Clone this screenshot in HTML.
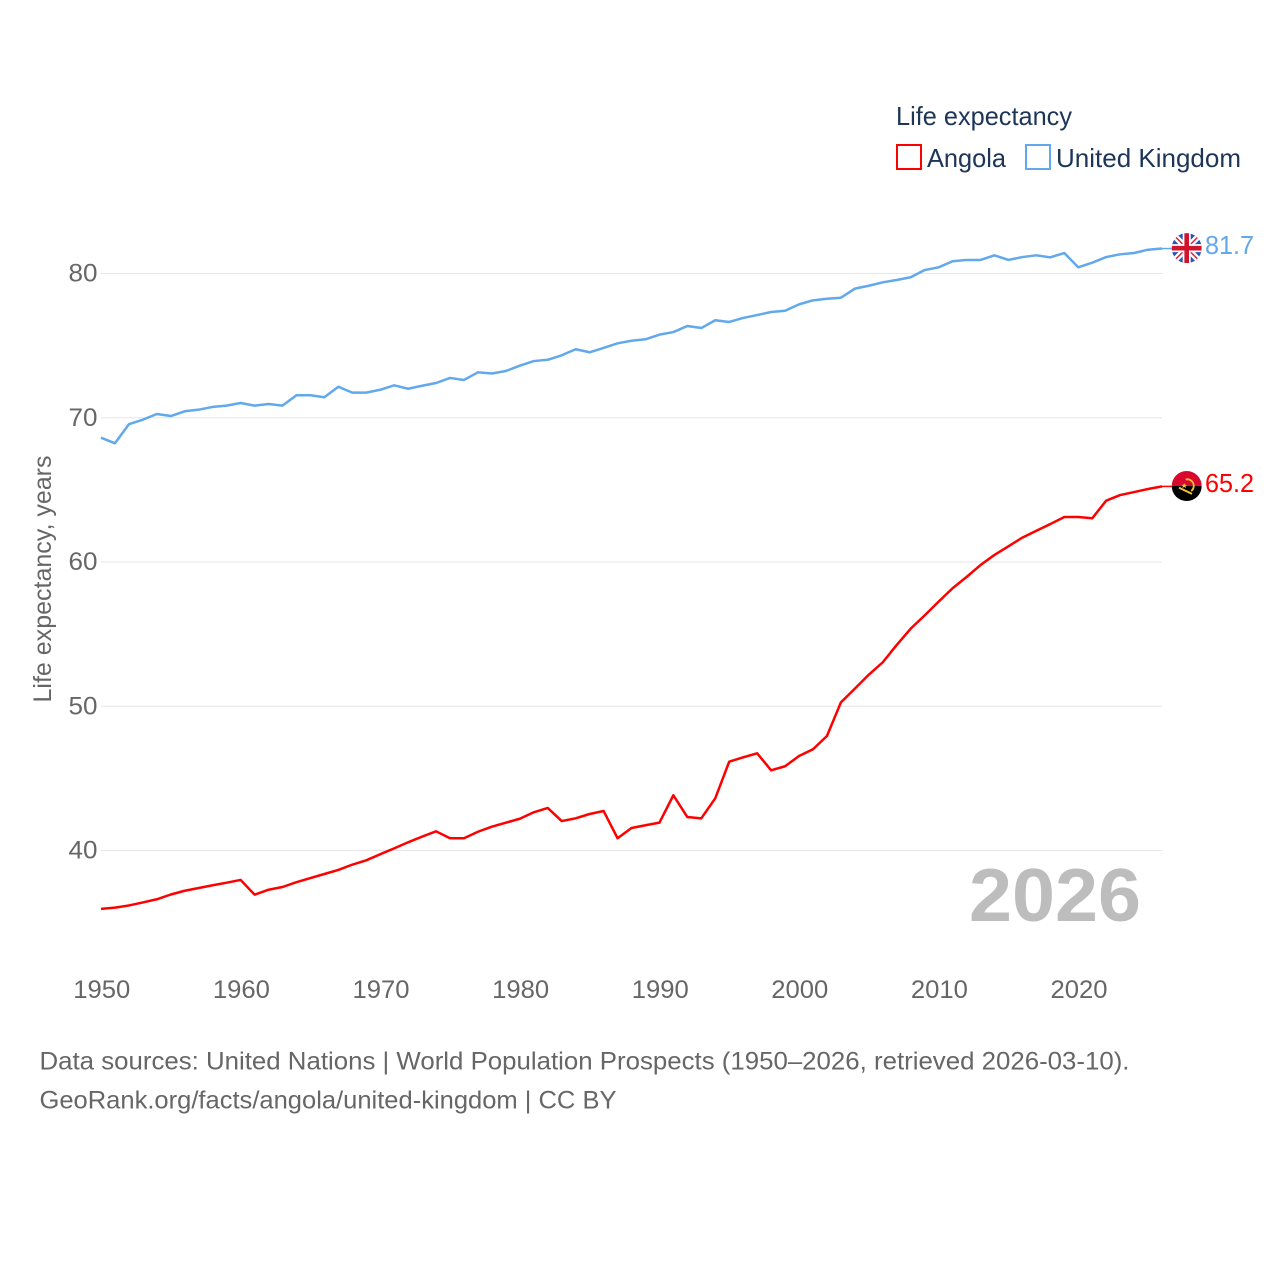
<!DOCTYPE html>
<html lang="en">
<head>
<meta charset="utf-8">
<title>Life expectancy: Angola and United Kingdom</title>
<style>
html,body{margin:0;padding:0;background:#fff;width:1280px;height:1280px;overflow:hidden}
svg{display:block;font-family:"Liberation Sans",sans-serif}
</style>
</head>
<body>
<svg id="chart" xmlns="http://www.w3.org/2000/svg" width="1280" height="1280" viewBox="0 0 1280 1280">
  <defs>
    <clipPath id="flag-clip"><circle cx="0" cy="0" r="15"/></clipPath>
  </defs>
  <rect x="0" y="0" width="1280" height="1280" fill="#ffffff"/>
  <g id="grid"></g>
  <g id="y-ticks"></g>
  <g id="x-ticks"></g>
  <text transform="translate(51,579) rotate(-90)" text-anchor="middle" font-size="25" fill="#666666" textLength="247" lengthAdjust="spacingAndGlyphs">Life expectancy, years</text>
  <text x="969" y="921" font-size="75" font-weight="700" fill="#bdbdbd" textLength="172" lengthAdjust="spacingAndGlyphs">2026</text>
  <g id="series"></g>

  <g id="flag-uk">
    <g clip-path="url(#flag-clip)">
      <rect x="-15" y="-15" width="30" height="30" fill="#2458b5"/>
      <path d="M-15,-15 L15,15 M15,-15 L-15,15" stroke="#ffffff" stroke-width="6"/>
      <path d="M-15,-15 L15,15 M15,-15 L-15,15" stroke="#d8283a" stroke-width="1.5"/>
      <path d="M0,-15 V15 M-15,0 H15" stroke="#ffffff" stroke-width="8"/>
      <path d="M0,-15 V15 M-15,0 H15" stroke="#d0142c" stroke-width="4.6"/>
    </g>
  </g>
  <g id="flag-angola">
    <g clip-path="url(#flag-clip)">
      <rect x="-15" y="-15" width="30" height="15" fill="#d8082e"/>
      <rect x="-15" y="0" width="30" height="15" fill="#000000"/>
      <path d="M-1,-6.5 A6.5,6.5 0 0 1 4.5,5" fill="none" stroke="#f5c52c" stroke-width="1.8"/>
      <path d="M-7,2 L4.5,7.5" fill="none" stroke="#f5c52c" stroke-width="2" stroke-linecap="round"/>
      <path d="M-2.5,-3.2 L-1.7,-1.2 L0.4,-1.2 L-1.2,0.1 L-0.6,2.1 L-2.5,0.9 L-4.4,2.1 L-3.8,0.1 L-5.4,-1.2 L-3.3,-1.2 Z" fill="#f5c52c"/>
    </g>
  </g>
  <text id="label-uk" x="1205" font-size="26" fill="#62a8ec" textLength="49" lengthAdjust="spacingAndGlyphs"></text>
  <text id="label-angola" x="1205" font-size="26" fill="#ff0000" textLength="49" lengthAdjust="spacingAndGlyphs"></text>

  <g>
    <text x="896" y="125" font-size="26" fill="#1d3557" textLength="176" lengthAdjust="spacingAndGlyphs">Life expectancy</text>
    <g>
      <rect x="897" y="145" width="24" height="24" fill="none" stroke="#ff0000" stroke-width="2"/>
      <text x="927" y="167" font-size="26" fill="#1d3557" textLength="79" lengthAdjust="spacingAndGlyphs">Angola</text>
    </g>
    <g>
      <rect x="1026" y="145" width="24" height="24" fill="none" stroke="#62a8ec" stroke-width="2"/>
      <text x="1056" y="167" font-size="26" fill="#1d3557" textLength="185" lengthAdjust="spacingAndGlyphs">United Kingdom</text>
    </g>
  </g>

  <text x="39.5" y="1069.5" font-size="25" fill="#666666" textLength="1090" lengthAdjust="spacingAndGlyphs">Data sources: United Nations | World Population Prospects (1950–2026, retrieved 2026-03-10).</text>
  <text x="39.5" y="1108.5" font-size="25" fill="#666666" textLength="577" lengthAdjust="spacingAndGlyphs">GeoRank.org/facts/angola/united-kingdom | CC BY</text>
</svg>
<script>
const years = [1950,1951,1952,1953,1954,1955,1956,1957,1958,1959,1960,1961,1962,1963,1964,1965,1966,1967,1968,1969,1970,1971,1972,1973,1974,1975,1976,1977,1978,1979,1980,1981,1982,1983,1984,1985,1986,1987,1988,1989,1990,1991,1992,1993,1994,1995,1996,1997,1998,1999,2000,2001,2002,2003,2004,2005,2006,2007,2008,2009,2010,2011,2012,2013,2014,2015,2016,2017,2018,2019,2020,2021,2022,2023,2024,2025,2026];
const angola = [35.95,36.04,36.19,36.4,36.62,36.95,37.21,37.4,37.59,37.77,37.96,36.94,37.28,37.47,37.8,38.09,38.37,38.65,39.02,39.32,39.74,40.15,40.57,40.96,41.33,40.85,40.85,41.3,41.65,41.93,42.2,42.65,42.95,42.04,42.23,42.53,42.74,40.85,41.56,41.75,41.93,43.83,42.32,42.23,43.62,46.16,46.46,46.74,45.56,45.84,46.55,47.02,47.94,50.27,51.22,52.19,53.05,54.25,55.38,56.3,57.25,58.18,58.96,59.79,60.49,61.09,61.69,62.17,62.63,63.12,63.12,63.03,64.25,64.64,64.85,65.06,65.24];
const unitedKingdom = [68.62,68.23,69.55,69.87,70.26,70.12,70.45,70.56,70.75,70.84,71.02,70.84,70.95,70.84,71.56,71.56,71.42,72.15,71.74,71.74,71.94,72.25,72.01,72.22,72.41,72.76,72.62,73.15,73.07,73.24,73.61,73.93,74.02,74.33,74.75,74.54,74.84,75.16,75.34,75.44,75.76,75.94,76.36,76.22,76.76,76.64,76.92,77.12,77.33,77.42,77.86,78.14,78.25,78.32,78.95,79.15,79.39,79.55,79.74,80.24,80.43,80.85,80.94,80.94,81.26,80.94,81.14,81.26,81.12,81.42,80.43,80.75,81.14,81.33,81.42,81.65,81.73];
const yTickValues = [40,50,60,70,80];
const xTickValues = [1950,1960,1970,1980,1990,2000,2010,2020];

const NS = 'http://www.w3.org/2000/svg';
function xScale(year){ return 101 + (year - 1950) * (1162 - 101) / 76; }
function yScale(value){ return 850.5 - (value - 40) * (850.5 - 273.5) / 40; }

const gridGroup = document.getElementById('grid');
const yTickGroup = document.getElementById('y-ticks');
const xTickGroup = document.getElementById('x-ticks');
const seriesGroup = document.getElementById('series');

yTickValues.forEach(function(v){
  const line = document.createElementNS(NS, 'line');
  
  
  line.setAttribute('x1', xScale(1950));
  line.setAttribute('x2', xScale(2026));
  line.setAttribute('y1', yScale(v));
  line.setAttribute('y2', yScale(v));
  line.setAttribute('stroke', '#e6e6e6');
  line.setAttribute('stroke-width', '1');
  gridGroup.appendChild(line);

  const label = document.createElementNS(NS, 'text');
  
  
  label.setAttribute('x', 97.5);
  label.setAttribute('y', yScale(v) + 8);
  label.setAttribute('text-anchor', 'end');
  label.setAttribute('font-size', '25');
  label.setAttribute('fill', '#666666');
  label.setAttribute('textLength', '29');
  label.setAttribute('lengthAdjust', 'spacingAndGlyphs');
  label.textContent = String(v);
  yTickGroup.appendChild(label);
});

xTickValues.forEach(function(t){
  const label = document.createElementNS(NS, 'text');
  
  
  label.setAttribute('x', xScale(t) + 0.8);
  label.setAttribute('y', 998);
  label.setAttribute('text-anchor', 'middle');
  label.setAttribute('font-size', '25');
  label.setAttribute('fill', '#666666');
  label.setAttribute('textLength', '57');
  label.setAttribute('lengthAdjust', 'spacingAndGlyphs');
  label.textContent = String(t);
  xTickGroup.appendChild(label);
});

function pointsOf(values){
  return values.map(function(v, i){ return xScale(years[i]).toFixed(2) + ',' + yScale(v).toFixed(2); }).join(' ');
}

function drawSeries(values, color, key, flagId, labelId){
  const line = document.createElementNS(NS, 'polyline');
  
  
  line.setAttribute('points', pointsOf(values));
  line.setAttribute('fill', 'none');
  line.setAttribute('stroke', color);
  line.setAttribute('stroke-width', '2.5');
  line.setAttribute('stroke-linejoin', 'round');
  seriesGroup.appendChild(line);

  const lastValue = values[values.length - 1];
  const endX = xScale(years[years.length - 1]);
  const endY = yScale(lastValue);

  const connector = document.createElementNS(NS, 'line');
  
  
  connector.setAttribute('x1', endX);
  connector.setAttribute('x2', endX + 10);
  connector.setAttribute('y1', endY);
  connector.setAttribute('y2', endY);
  connector.setAttribute('stroke', color);
  connector.setAttribute('stroke-width', '1.5');
  seriesGroup.appendChild(connector);

  document.getElementById(flagId).setAttribute('transform', 'translate(' + (endX + 24.7) + ',' + (endY - 0.4) + ')');
  const label = document.getElementById(labelId);
  label.setAttribute('y', endY + 5.7);
  label.textContent = lastValue.toFixed(1);
}

drawSeries(unitedKingdom, '#62a8ec', 'united-kingdom', 'flag-uk', 'label-uk');
drawSeries(angola, '#ff0000', 'angola', 'flag-angola', 'label-angola');
</script>
</body>
</html>
